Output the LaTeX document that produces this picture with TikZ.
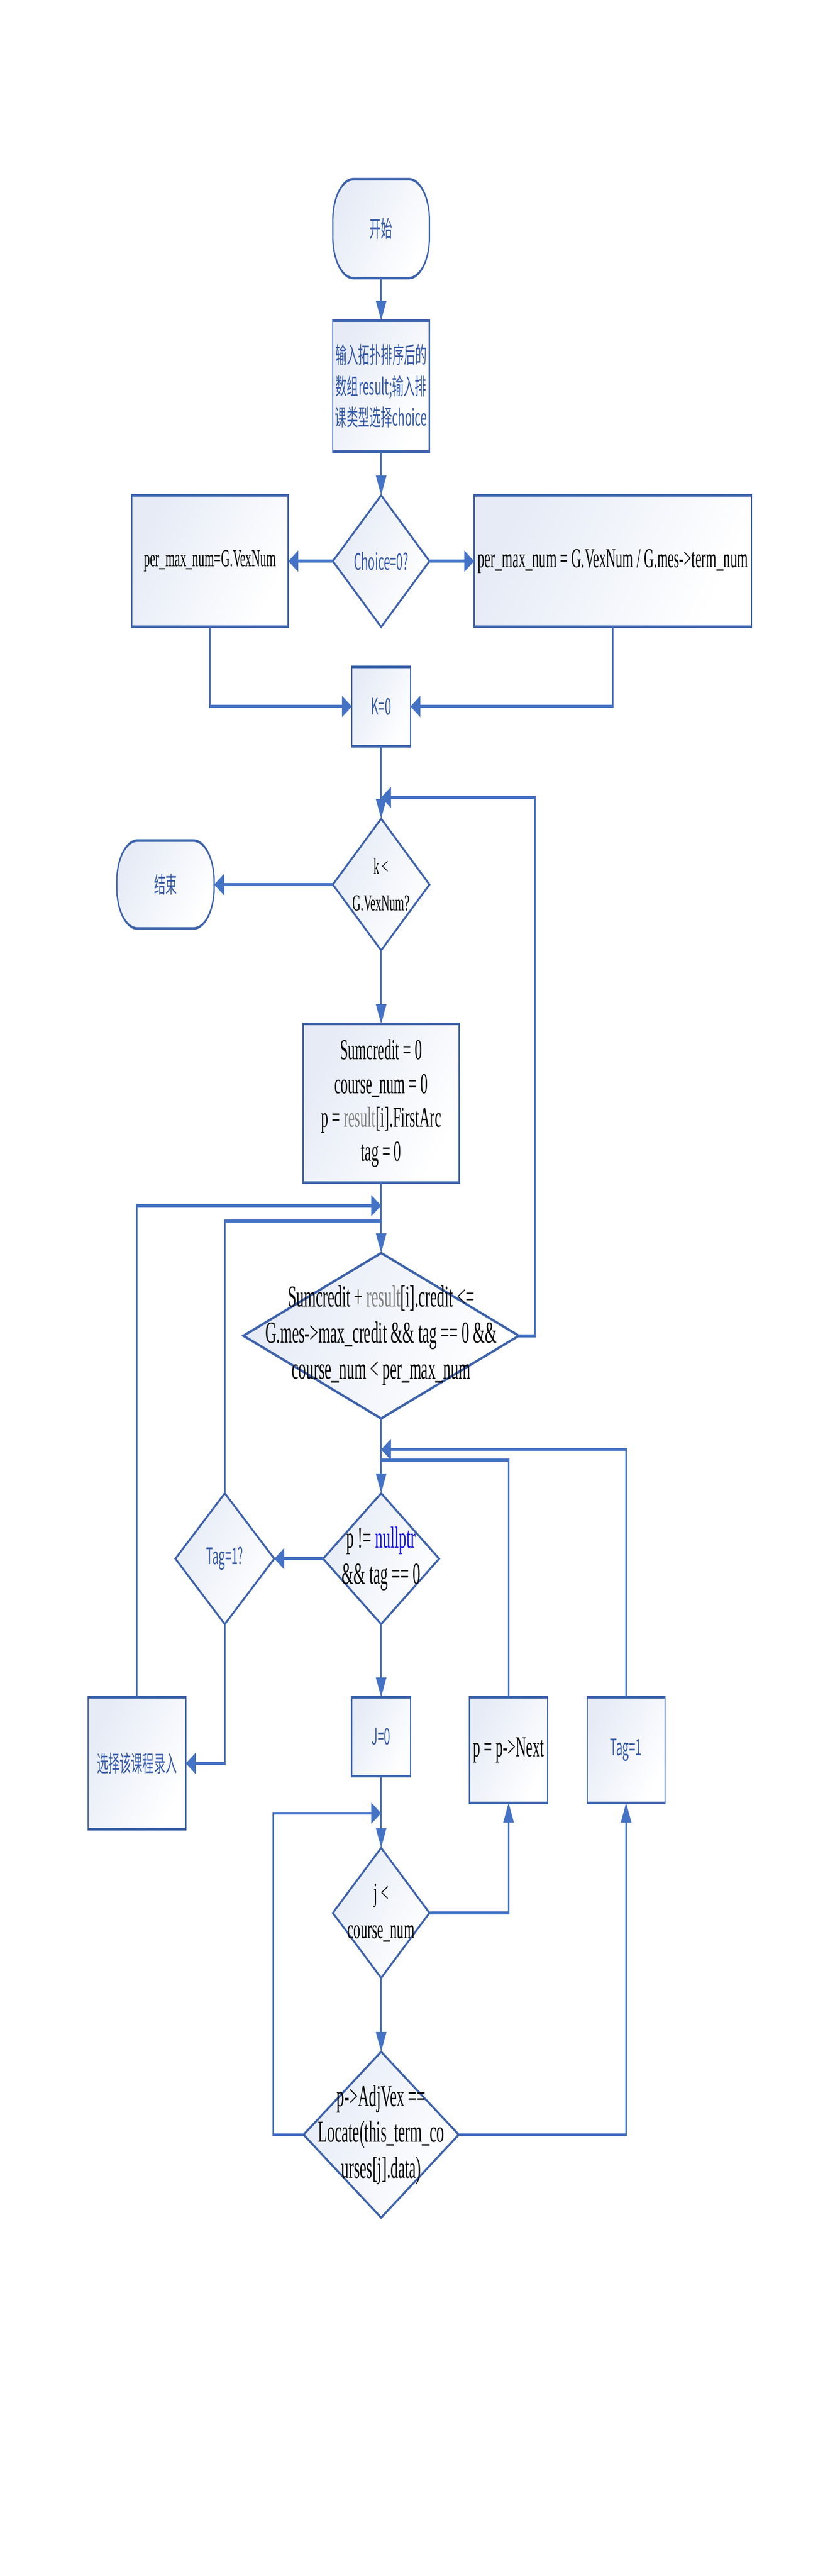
\documentclass[tikz,border=0pt]{standalone}
\usepackage{fontspec}
\setmainfont{Liberation Serif}
\newfontfamily\cjk{Noto Sans CJK SC}
\usetikzlibrary{shapes.geometric,arrows.meta}

\definecolor{lineblue}{RGB}{68,114,196}
\definecolor{edgeblue}{RGB}{60,98,172}
\definecolor{textblue}{RGB}{52,88,165}
\definecolor{fillblue}{RGB}{230,235,246}
\definecolor{codegray}{RGB}{128,128,128}
\definecolor{keyblue}{RGB}{20,20,235}

\tikzset{
  base/.style={draw=edgeblue, line width=1.7pt, outer sep=0pt, inner sep=2pt, align=center,
    top color=fillblue, bottom color=white, shading angle=45},
  process/.style={base, rectangle},
  terminal/.style={base, rectangle, rounded corners=27pt},
  decision/.style={base, diamond, inner sep=0pt},
  bluetext/.style={font=\cjk\fontsize{15}{20.5}\selectfont, text=textblue},
  line/.style={draw=lineblue, line width=2pt},
  arrow/.style={line, -{Triangle[length=13pt,width=13.5pt]}}
}

\begin{document}
\begin{tikzpicture}
  \useasboundingbox (0pt,0pt) rectangle (537.5pt,-1692.75pt);
  \begin{scope}[overlay, transform canvas={xscale=0.5}, x=0.5pt, y=-0.25pt]
  \node (start) [terminal, bluetext, minimum width=127pt, minimum height=65pt] at (1002, 601) {开始};
  \node (input) [process, bluetext, minimum width=127pt, minimum height=86.25pt] at (1002, 1015) {输入拓扑排序后的\\数组result;输入排\\课类型选择choice};
  \node (choice) [decision, bluetext, minimum width=127pt, minimum height=86.5pt] at (1002, 1475) {Choice=0?};
  \node (lbox) [process, font=\fontsize{16}{19}\selectfont, minimum width=206pt, minimum height=86.5pt] at (552, 1475) {per\_max\_num=G.VexNum};
  \node (rbox) [process, font=\fontsize{18}{21}\selectfont, minimum width=364.5pt, minimum height=86.5pt] at (1611, 1475) {per\_max\_num = G.VexNum / G.mes->term\_num};
  \node (k0) [process, bluetext, minimum width=77pt, minimum height=52.25pt] at (1002, 1857) {K=0};
  \node (kdia) [decision, minimum width=127pt, minimum height=86.5pt,
    label={[font=\fontsize{15}{24}\selectfont, align=center]center:k <\\G.VexNum?}] at (1002, 2325) {};
  \node (stop) [terminal, bluetext, minimum width=128pt, minimum height=57.75pt] at (435, 2325) {结束};
  \node (init) [process, font=\fontsize{19}{22.3}\selectfont, minimum width=205pt, minimum height=104.25pt] at (1002, 2900)
    {Sumcredit = 0\\course\_num = 0\\p = \textcolor{codegray}{result}[i].FirstArc\\tag = 0};
  \node (cond) [decision, minimum width=362pt, minimum height=108.75pt,
    label={[font=\fontsize{20}{23.7}\selectfont, align=center]center:Sumcredit + \textcolor{codegray}{result}[i].credit <=\\G.mes->max\_credit \&\& tag == 0 \&\&\\course\_num < per\_max\_num}] at (1002, 3511) {};
  \node (pdia) [decision, minimum width=152.5pt, minimum height=86pt,
    label={[font=\fontsize{20}{23.5}\selectfont, align=center]center:p != \textcolor{keyblue}{nullptr}\\\&\& tag == 0}] at (1002, 4097) {};
  \node (tagq) [decision, bluetext, minimum width=130pt, minimum height=86pt] at (591, 4097) {Tag=1?};
  \node (sel) [process, bluetext, minimum width=128.5pt, minimum height=86.75pt] at (360, 4635) {选择该课程录入};
  \node (j0) [process, bluetext, minimum width=77.5pt, minimum height=52pt] at (1002, 4565) {J=0};
  \node (next) [process, font=\fontsize{19}{22}\selectfont, minimum width=102.5pt, minimum height=69.25pt] at (1337, 4600) {p = p->Next};
  \node (tag1) [process, bluetext, minimum width=102.5pt, minimum height=69.25pt] at (1646, 4600) {Tag=1};
  \node (jdia) [decision, minimum width=127pt, minimum height=85.5pt,
    label={[font=\fontsize{18}{24}\selectfont, align=center]center:j <\\course\_num}] at (1002, 5028) {};
  \node (adj) [decision, minimum width=204pt, minimum height=109pt,
    label={[font=\fontsize{20}{23.5}\selectfont, align=center]center:p->AdjVex ==\\Locate(this\_term\_co\\urses[j].data)}] at (1002, 5611) {};

  \coordinate (kloop) at (1406, 2096);
  \coordinate (kjoin) at (1002, 2096);
  \coordinate (cjoina) at (1002, 3169);
  \coordinate (cjoinb) at (1002, 3210);
  \coordinate (pjoina) at (1002, 3810);
  \coordinate (pjoinb) at (1002, 3838);
  \coordinate (jloop) at (718, 4766);
  \coordinate (jjoin) at (1002, 4766);

  \draw [arrow] (start) -- (input);
  \draw [arrow] (input) -- (choice);
  \draw [arrow] (choice) -- (lbox);
  \draw [arrow] (choice) -- (rbox);
  \draw [arrow] (lbox.south) |- (k0.west);
  \draw [arrow] (rbox.south) |- (k0.east);
  \draw [arrow] (k0) -- (kdia);
  \draw [arrow] (kdia) -- (stop);
  \draw [arrow] (kdia) -- (init);
  \draw [arrow] (init) -- (cond);
  \draw [arrow] (cond.east) -| (kloop) -- (kjoin);
  \draw [arrow] (sel.north) |- (cjoina);
  \draw [line] (tagq.north) |- (cjoinb);
  \draw [arrow] (cond) -- (pdia);
  \draw [arrow] (pdia) -- (tagq);
  \draw [arrow] (tagq.south) |- (sel.east);
  \draw [arrow] (pdia) -- (j0);
  \draw [arrow] (tag1.north) |- (pjoina);
  \draw [line] (next.north) |- (pjoinb);
  \draw [arrow] (j0) -- (jdia);
  \draw [arrow] (jdia.east) -| (next.south);
  \draw [arrow] (jdia) -- (adj);
  \draw [arrow] (adj.east) -| (tag1.south);
  \draw [arrow] (adj.west) -| (jloop) -- (jjoin);
  \end{scope}
\end{tikzpicture}
\end{document}
